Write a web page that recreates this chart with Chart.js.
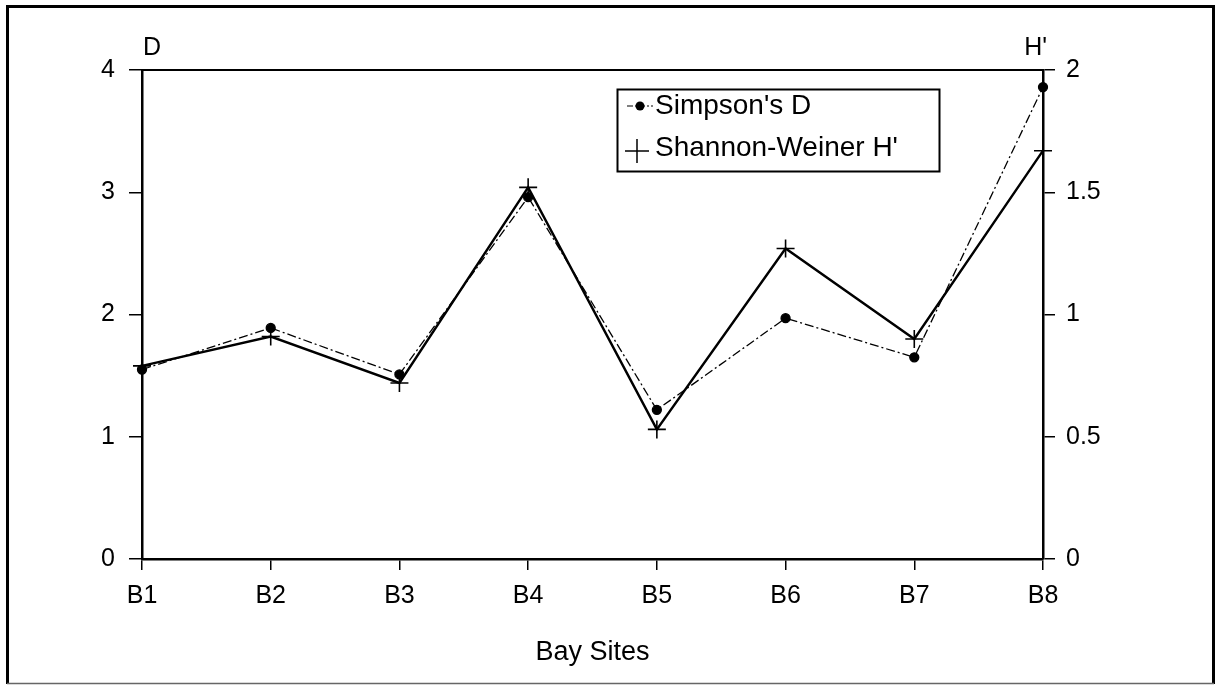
<!DOCTYPE html>
<html>
<head>
<meta charset="utf-8">
<script src="https://cdn.jsdelivr.net/npm/chart.js@4/dist/chart.umd.min.js"></script>
<style>
  body { margin: 0; background: #fff; }
  #wrap { width: 1216px; height: 685px; }
</style>
</head>
<body>
<div id="wrap"><canvas id="chart" width="1216" height="685"></canvas></div>
<script>
// data
const sites = ["B1", "B2", "B3", "B4", "B5", "B6", "B7", "B8"];
const simpsonD = [1.55, 1.89, 1.51, 2.96, 1.22, 1.97, 1.65, 3.86];
const shannonH = [0.79, 0.91, 0.72, 1.52, 0.53, 1.27, 0.90, 1.67];
const dTicks = [0, 1, 2, 3, 4];
const hTicks = [0, 0.5, 1, 1.5, 2];

const FONT = "'Liberation Sans', Arial, sans-serif";

// frame, top line of plot, axis titles, legend box
const decor = {
  id: "decor",
  afterDraw(chart) {
    const ctx = chart.ctx;
    const a = chart.chartArea;
    ctx.save();

    // outer frame
    ctx.strokeStyle = "#000";
    ctx.lineWidth = 3;
    ctx.beginPath();
    ctx.moveTo(7.5, 684);
    ctx.lineTo(7.5, 6.5);
    ctx.lineTo(1213.5, 6.5);
    ctx.lineTo(1213.5, 684);
    ctx.stroke();
    ctx.strokeStyle = "#666";
    ctx.lineWidth = 1.5;
    ctx.beginPath();
    ctx.moveTo(7, 683.5);
    ctx.lineTo(1214, 683.5);
    ctx.stroke();

    // top edge of plot area
    ctx.strokeStyle = "#000";
    ctx.lineWidth = 2;
    ctx.beginPath();
    ctx.moveTo(a.left, a.top);
    ctx.lineTo(a.right, a.top);
    ctx.stroke();

    // axis titles
    ctx.fillStyle = "#000";
    ctx.font = "25px " + FONT;
    ctx.textBaseline = "alphabetic";
    ctx.textAlign = "left";
    ctx.fillText("D", a.left + 1, 55);
    ctx.textAlign = "right";
    ctx.fillText("H'", a.right + 4, 55);
    ctx.font = "27px " + FONT;
    ctx.textAlign = "center";
    ctx.fillText("Bay Sites", (a.left + a.right) / 2, 660);

    // legend
    const lx = 617, ly = 89, lw = 322, lh = 82;
    ctx.lineWidth = 2;
    ctx.strokeRect(lx + 0.5, ly + 0.5, lw, lh);
    const ds = chart.data.datasets;
    const r1 = 106, r2 = 148;

    ctx.lineWidth = 1.2;
    ctx.setLineDash([6, 2, 2, 2]);
    ctx.beginPath();
    ctx.moveTo(627, r1);
    ctx.lineTo(653, r1);
    ctx.stroke();
    ctx.setLineDash([]);
    ctx.beginPath();
    ctx.arc(640, r1, 4.5, 0, Math.PI * 2);
    ctx.fill();

    ctx.lineWidth = 1.5;
    ctx.beginPath();
    ctx.moveTo(625, r2 + 3);
    ctx.lineTo(649, r2 + 3);
    ctx.moveTo(637, r2 - 9);
    ctx.lineTo(637, r2 + 15);
    ctx.stroke();

    ctx.font = "28px " + FONT;
    ctx.textAlign = "left";
    ctx.textBaseline = "middle";
    ctx.fillText(ds[0].label, 655, r1);
    ctx.fillText(ds[1].label, 655, r2);

    ctx.restore();
  }
};

new Chart(document.getElementById("chart"), {
  type: "line",
  data: {
    labels: sites,
    datasets: [
      {
        label: "Simpson's D",
        data: simpsonD,
        yAxisID: "y",
        borderColor: "#000",
        backgroundColor: "#000",
        borderWidth: 1.3,
        borderDash: [9, 3, 2, 3],
        pointStyle: "circle",
        pointRadius: 4.5,
        pointBackgroundColor: "#000",
        pointBorderColor: "#000",
        tension: 0
      },
      {
        label: "Shannon-Weiner H'",
        data: shannonH,
        yAxisID: "y2",
        borderColor: "#000",
        backgroundColor: "#000",
        borderWidth: 2.4,
        pointStyle: "cross",
        pointRadius: 9,
        pointBorderWidth: 1.6,
        pointBorderColor: "#000",
        tension: 0
      }
    ]
  },
  options: {
    responsive: false,
    animation: false,
    devicePixelRatio: 1,
    layout: { padding: { top: 70, left: 0, right: 0, bottom: 0 } },
    plugins: {
      legend: { display: false },
      tooltip: { enabled: false }
    },
    scales: {
      x: {
        type: "category",
        offset: false,
        afterFit: s => { s.height = 126; },
        grid: { drawOnChartArea: false, drawTicks: true, tickLength: 11, color: "#000", lineWidth: 1.5 },
        border: { color: "#000", width: 2.5 },
        ticks: { color: "#000", font: { family: FONT, size: 25 }, padding: 11, maxRotation: 0 }
      },
      y: {
        position: "left",
        min: 0,
        max: 4,
        afterFit: s => { s.width = 142; },
        afterBuildTicks: s => { s.ticks = dTicks.map(v => ({ value: v })); },
        grid: { drawOnChartArea: false, drawTicks: true, tickLength: 13, color: "#000", lineWidth: 1.5 },
        border: { color: "#000", width: 2.5 },
        ticks: { color: "#000", font: { family: FONT, size: 25 }, padding: 14, callback: v => String(v) }
      },
      y2: {
        position: "right",
        min: 0,
        max: 2,
        afterFit: s => { s.width = 173; },
        afterBuildTicks: s => { s.ticks = hTicks.map(v => ({ value: v })); },
        grid: { drawOnChartArea: false, drawTicks: true, tickLength: 12, color: "#000", lineWidth: 1.5 },
        border: { color: "#000", width: 2.5 },
        ticks: { color: "#000", font: { family: FONT, size: 25 }, padding: 11, callback: v => String(v) }
      }
    }
  },
  plugins: [decor]
});
</script>
</body>
</html>
